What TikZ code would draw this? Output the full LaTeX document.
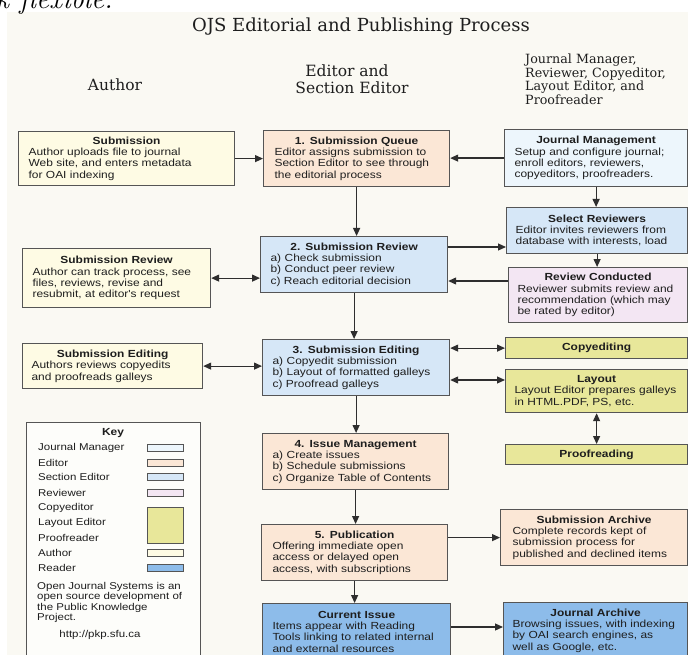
\documentclass[tikz,border=0pt]{standalone}
\usepackage{fontspec}
\usetikzlibrary{arrows.meta}
\newfontfamily\boxfont[FakeStretch=1.16]{Liberation Sans}
\newfontfamily\headfont{DejaVu Serif}
\definecolor{bgcream}{HTML}{FAF9F3}
\definecolor{authorfill}{HTML}{FEFBE4}
\definecolor{editorfill}{HTML}{FBE7D6}
\definecolor{sectionfill}{HTML}{D6E7F7}
\definecolor{jmfill}{HTML}{EDF6FC}
\definecolor{reviewerfill}{HTML}{F3E6F3}
\definecolor{yellowfill}{HTML}{E8E79A}
\definecolor{readerfill}{HTML}{8DBCEA}
\definecolor{bordercol}{HTML}{555555}
\definecolor{arrowcol}{HTML}{2E2E2E}
\definecolor{textcol}{HTML}{1E1E1E}
\newcommand\ojsbox[8]{%
  \pgfmathsetmacro\ojsw{#4-#2}%
  \pgfmathsetmacro\ojsh{#5-#3}%
  \pgfmathsetmacro\ojstw{#4-#2-2*#7}%
  \node[ojsbase, fill=#6, minimum width=\ojsw pt, minimum height=\ojsh pt,
        text width=\ojstw pt, inner xsep=#7 pt] (#1) at (#2,#3) {#8};%
}
\newcommand\ojstitle[1]{\makebox[\linewidth]{\bfseries #1}}
\tikzset{
  ojsbase/.style={draw=bordercol, line width=1.2pt, anchor=north west,
    inner ysep=0pt, align=left, text=textcol,
    font=\boxfont\fontsize{10.3}{11.3}\selectfont},
  arr/.style={draw=arrowcol, line width=1.2pt, -{Triangle[length=8pt,width=7pt]}},
  darr/.style={arr, {Triangle[length=8pt,width=7pt]}-{Triangle[length=8pt,width=7pt]}},
  headtxt/.style={text=textcol, inner sep=0pt, font=\headfont\fontsize{15.5}{17}\selectfont},
  righthead/.style={text=textcol, inner sep=0pt, anchor=base west, font=\headfont\fontsize{12.7}{14}\selectfont},
  keytxt/.style={text=textcol, inner sep=0pt, anchor=west, font=\boxfont\fontsize{9.9}{10.4}\selectfont},
  swatch/.style={draw=bordercol, line width=1pt, minimum width=36pt, minimum height=7pt, inner sep=0pt},
}
\begin{document}
\begin{tikzpicture}[x=1pt,y=-1pt]
\useasboundingbox (0,0) rectangle (688,655);
\fill[white] (0,0) rectangle (688,655);
\fill[bgcream] (7,12) rectangle (688,655);
\node[anchor=base west, inner sep=0pt, font=\itshape\fontsize{29}{29}\selectfont] (frag) at (-4,8.5) {k flexible.};
% headers
\node[headtxt, anchor=base, font=\headfont\fontsize{18}{20}\selectfont] (title) at (361,31.5) {OJS Editorial and Publishing Process};
\node[headtxt, anchor=base] (hauthor) at (115,91) {Author};
\node[headtxt, anchor=base] (hed1) at (347,77) {Editor and};
\node[headtxt, anchor=base] (hed2) at (352,94) {Section Editor};
\node[righthead] (hr1) at (525,64) {Journal Manager,};
\node[righthead] (hr2) at (525,77.5) {Reviewer, Copyeditor,};
\node[righthead] (hr3) at (525,91) {Layout Editor, and};
\node[righthead] (hr4) at (525,104.5) {Proofreader};
% author column
\ojsbox{A1}{18}{131}{234}{185}{authorfill}{10}{\ojstitle{Submission}\\Author uploads file to journal\\Web site, and enters metadata\\for OAI indexing}
\ojsbox{A2}{22}{248}{210}{307}{authorfill}{10}{\ojstitle{Submission Review}\\Author can track process, see\\files, reviews, revise and\\resubmit, at editor's request}
\ojsbox{A3}{22}{343}{202}{388}{authorfill}{9}{\ojstitle{Submission Editing}\\Authors reviews copyedits\\and proofreads galleys}
% middle column
\ojsbox{M1}{263}{130}{449}{186}{editorfill}{11}{\ojstitle{1. Submission Queue}\\Editor assigns submission to\\Section Editor to see through\\the editorial process}
\ojsbox{M2}{260}{236}{447}{292}{sectionfill}{10}{\ojstitle{2. Submission Review}\\a) Check submission\\b) Conduct peer review\\c) Reach editorial decision}
\ojsbox{M3}{262}{339}{449}{395}{sectionfill}{10}{\ojstitle{3. Submission Editing}\\a) Copyedit submission\\b) Layout of formatted galleys\\c) Proofread galleys}
\ojsbox{M4}{262}{433}{448}{489}{editorfill}{10}{\ojstitle{4. Issue Management}\\a) Create issues\\b) Schedule submissions\\c) Organize Table of Contents}
\ojsbox{M5}{261}{524}{447}{580}{editorfill}{11}{\ojstitle{5. Publication}\\Offering immediate open\\access or delayed open\\access, with subscriptions}
\ojsbox{M6}{262}{603}{450}{659}{readerfill}{10}{\ojstitle{Current Issue}\\Items appear with Reading\\Tools linking to related internal\\and external resources}
% right column
\ojsbox{R1}{504}{129}{687}{186}{jmfill}{10}{\ojstitle{Journal Management}\\Setup and configure journal;\\enroll editors, reviewers,\\copyeditors, proofreaders.}
\ojsbox{R2}{506}{207}{687}{253}{sectionfill}{9}{\ojstitle{Select Reviewers}\\Editor invites reviewers from\\database with interests, load}
\ojsbox{R3}{508}{267}{687}{322}{reviewerfill}{9}{\ojstitle{Review Conducted}\\Reviewer submits review and\\recommendation (which may\\be rated by editor)}
\ojsbox{R4}{505}{337}{687}{358}{yellowfill}{9}{\ojstitle{Copyediting}}
\ojsbox{R5}{505}{369}{687}{412}{yellowfill}{9}{\ojstitle{Layout}\\Layout Editor prepares galleys\\in HTML.PDF, PS, etc.}
\ojsbox{R6}{505}{444}{687}{464}{yellowfill}{9}{\ojstitle{Proofreading}}
\ojsbox{R7}{500}{509}{687}{565}{editorfill}{12}{\ojstitle{Submission Archive}\\Complete records kept of\\submission process for\\published and declined items}
\ojsbox{R8}{503}{602}{687}{658}{readerfill}{9}{\ojstitle{Journal Archive}\\Browsing issues, with indexing\\by OAI search engines, as\\well as Google, etc.}
% key
\node[draw=bordercol, line width=1.2pt, fill=white!60!bgcream, anchor=north west, minimum width=174pt, minimum height=250pt, inner sep=0pt] (key) at (26,422) {};
\node[keytxt, anchor=center, font=\boxfont\bfseries\fontsize{10.3}{11}\selectfont] (keyt) at (113,433) {Key};
\node[keytxt] (k1) at (38,448) {Journal Manager};
\node[keytxt] (k2) at (38,463) {Editor};
\node[keytxt] (k3) at (38,477) {Section Editor};
\node[keytxt] (k4) at (38,493) {Reviewer};
\node[keytxt] (k5) at (38,508) {Copyeditor};
\node[keytxt] (k6) at (38,523) {Layout Editor};
\node[keytxt] (k7) at (38,538) {Proofreader};
\node[keytxt] (k8) at (38,553) {Author};
\node[keytxt] (k9) at (38,568) {Reader};
\node[swatch, fill=jmfill] (s1) at (165,448) {};
\node[swatch, fill=editorfill] (s2) at (165,463) {};
\node[swatch, fill=sectionfill] (s3) at (165,477) {};
\node[swatch, fill=reviewerfill] (s4) at (165,493) {};
\node[swatch, fill=yellowfill, minimum height=36pt] (s5) at (165,525) {};
\node[swatch, fill=authorfill] (s6) at (165,553) {};
\node[swatch, fill=readerfill] (s7) at (165,568) {};
\node[keytxt, align=left] (kpara) at (37,602.5) {Open Journal Systems is an\\open source development of\\the Public Knowledge\\Project.};
\node[keytxt, anchor=center] (kurl) at (100,635) {http://pkp.sfu.ca};
% connectors
\draw[arr] (A1.east) -- (A1.east -| M1.west);
\draw[arr] (R1.west) -- (R1.west -| M1.east);
\draw[arr] (M1.south) -- (M1.south |- M2.north);
\draw[darr] (A2.east) -- (A2.east -| M2.west);
\draw[arr] (M2.east |- 0,247) -- (R2.west |- 0,247);
\draw[arr] (R3.west |- 0,281) -- (M2.east |- 0,281);
\draw[arr] (R1.south) -- (R1.south |- R2.north);
\draw[arr] (R2.south) -- (R2.south |- R3.north);
\draw[arr] (M2.south) -- (M2.south |- M3.north);
\draw[darr] (A3.east) -- (A3.east -| M3.west);
\draw[darr] (M3.east |- R4.west) -- (R4.west);
\draw[darr] (M3.east |- 0,380) -- (R5.west |- 0,380);
\draw[darr] (R5.south) -- (R5.south |- R6.north);
\draw[arr] (M3.south) -- (M3.south |- M4.north);
\draw[arr] (M4.south) -- (M4.south |- M5.north);
\draw[arr] (M5.south) -- (M5.south |- M6.north);
\draw[arr] (M5.east |- R7.west) -- (R7.west);
\draw[arr] (M6.east |- 0,627) -- (R8.west |- 0,627);
\end{tikzpicture}
\end{document}
